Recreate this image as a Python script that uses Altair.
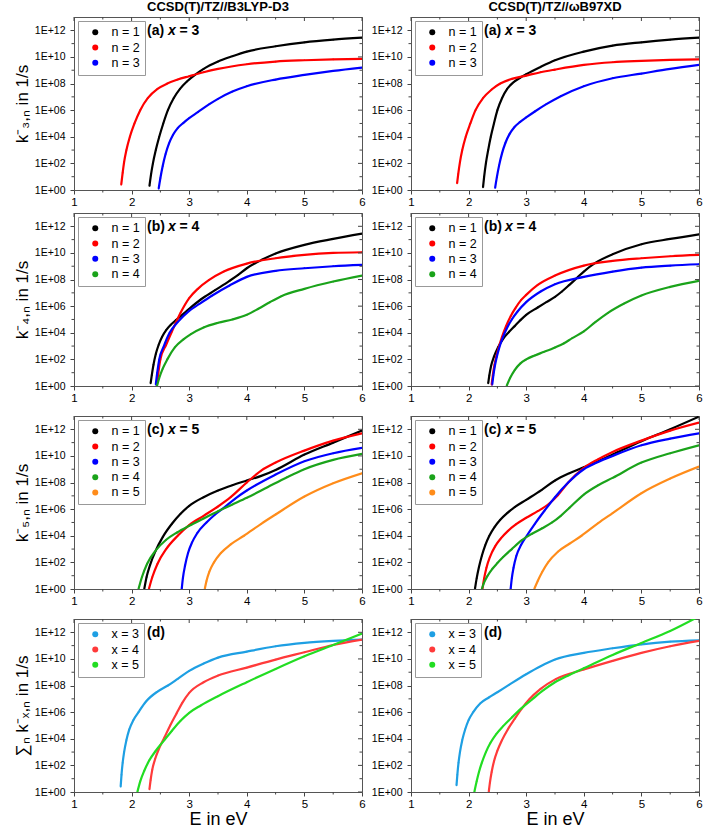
import altair as alt
import pandas as pd

# ---------------- text ----------------
TITLE_LEFT = "CCSD(T)/TZ//B3LYP-D3"
TITLE_RIGHT = "CCSD(T)/TZ//ωB97XD"
Y_TITLES = ["k⁻₃,ₙ in 1/s", "k⁻₄,ₙ in 1/s", "k⁻₅,ₙ in 1/s", "∑ₙ k⁻ₓ,ₙ in 1/s"]
X_TITLE = "E in eV"
N_NAMES = ["n = 1", "n = 2", "n = 3", "n = 4", "n = 5"]
X_NAMES = ["x = 3", "x = 4", "x = 5"]
N_COLORS = ["#000000", "#ff0000", "#0000ff", "#1aa31a", "#ff8c1a"]
X_COLORS = ["#1e9fe3", "#ff3a3a", "#22dd22"]

# ---------------- axes ----------------
X_MAJOR = [1, 2, 3, 4, 5, 6]
X_MINOR = [1.5, 2.5, 3.5, 4.5, 5.5]
Y_MAJOR_EXP = [0, 2, 4, 6, 8, 10, 12]
Y_MINOR_EXP = [1, 3, 5, 7, 9, 11]

# ---------------- data: (E in eV, log10 k) ----------------
# (a) x = 3, B3LYP-D3
a_l_n1 = [(2.31, 0.3), (2.335, 1.1), (2.37, 2), (2.42, 3), (2.48, 4), (2.55, 5), (2.63, 6), (2.73, 6.9),
          (2.84, 7.6), (2.96, 8.15), (3.1, 8.65), (3.25, 9.1), (3.5, 9.65), (3.75, 10.05), (4.0, 10.4),
          (4.5, 10.8), (5.0, 11.1), (5.5, 11.3), (6.0, 11.45)]
a_l_n2 = [(1.82, 0.4), (1.845, 1.3), (1.87, 2.1), (1.91, 3), (1.97, 4), (2.05, 5), (2.15, 6), (2.28, 6.9),
          (2.45, 7.6), (2.62, 8.0), (2.8, 8.3), (3.0, 8.55), (3.25, 8.85), (3.5, 9.1), (4.0, 9.45), (4.5, 9.65),
          (5.0, 9.75), (5.5, 9.82), (6.0, 9.85)]
a_l_n3 = [(2.47, 0.1), (2.50, 0.9), (2.54, 1.8), (2.59, 2.7), (2.65, 3.5), (2.72, 4.15), (2.80, 4.65),
          (2.9, 5.05), (3.0, 5.4), (3.15, 5.85), (3.35, 6.45), (3.5, 6.85), (3.75, 7.4), (4.0, 7.8), (4.5, 8.3),
          (5.0, 8.65), (5.5, 8.95), (6.0, 9.2)]
# (a) x = 3, wB97XD
a_r_n1 = [(2.25, 0.2), (2.27, 1), (2.30, 2), (2.34, 3), (2.385, 4), (2.44, 5), (2.50, 6), (2.58, 6.9),
          (2.67, 7.6), (2.78, 8.1), (2.9, 8.45), (3.0, 8.7), (3.25, 9.25), (3.5, 9.75), (4.0, 10.4),
          (4.5, 10.85), (5.0, 11.1), (5.5, 11.3), (6.0, 11.45)]
a_r_n2 = [(1.80, 0.5), (1.82, 1.2), (1.85, 2.1), (1.89, 3), (1.95, 4), (2.03, 5), (2.12, 6), (2.25, 6.9),
          (2.4, 7.55), (2.55, 8.0), (2.75, 8.35), (3.0, 8.6), (3.25, 8.85), (3.5, 9.05), (4.0, 9.4), (4.5, 9.6),
          (5.0, 9.7), (5.5, 9.78), (6.0, 9.82)]
a_r_n3 = [(2.46, 0.15), (2.49, 0.95), (2.53, 1.85), (2.58, 2.75), (2.64, 3.55), (2.71, 4.2), (2.79, 4.7),
          (2.89, 5.1), (3.0, 5.45), (3.15, 5.9), (3.35, 6.45), (3.6, 7.05), (4.0, 7.8), (4.5, 8.4), (5.0, 8.75),
          (5.5, 9.1), (6.0, 9.4)]
# (b) x = 4, B3LYP-D3
b_l_n1 = [(2.33, 0.2), (2.35, 0.8), (2.38, 1.6), (2.42, 2.4), (2.47, 3.1), (2.53, 3.7), (2.6, 4.2), (2.68, 4.6),
          (2.77, 4.95), (2.88, 5.35), (3.0, 5.8), (3.2, 6.5), (3.45, 7.2), (3.7, 7.9), (3.85, 8.35), (4.0, 8.85),
          (4.27, 9.5), (4.5, 9.95), (5.0, 10.6), (5.5, 11.05), (6.0, 11.45)]
b_l_n2 = [(2.44, 0.1), (2.465, 1), (2.50, 2), (2.6, 3.1), (2.70, 4.1), (2.85, 5.5), (3.0, 6.6), (3.15, 7.3),
          (3.34, 7.95), (3.6, 8.6), (4.0, 9.2), (4.5, 9.6), (5.0, 9.85), (5.5, 10.0), (6.0, 10.05)]
b_l_n3 = [(2.42, 0.1), (2.445, 1), (2.48, 2), (2.56, 3), (2.66, 4), (2.8, 4.8), (3.0, 5.65), (3.17, 6.15),
          (3.4, 6.8), (3.7, 7.55), (4.0, 8.2), (4.5, 8.65), (5.0, 8.85), (5.5, 9.0), (6.0, 9.1)]
b_l_n4 = [(2.44, 0), (2.48, 0.6), (2.54, 1.3), (2.62, 2), (2.75, 2.9), (2.9, 3.5), (3.03, 3.9), (3.25, 4.4),
          (3.5, 4.75), (3.75, 5.0), (4.0, 5.35), (4.2, 5.8), (4.4, 6.3), (4.6, 6.75), (5.0, 7.3), (5.5, 7.85),
          (6.0, 8.3)]
# (b) x = 4, wB97XD
b_r_n1 = [(2.34, 0.2), (2.36, 0.8), (2.39, 1.5), (2.44, 2.2), (2.51, 2.9), (2.6, 3.55), (2.7, 4.05), (2.8, 4.5),
          (2.9, 4.95), (3.0, 5.35), (3.2, 5.9), (3.35, 6.3), (3.5, 6.7), (3.62, 7.1), (3.75, 7.6), (3.9, 8.2),
          (4.0, 8.6), (4.2, 9.25), (4.5, 9.9), (5.0, 10.65), (5.5, 11.05), (6.0, 11.4)]
b_r_n2 = [(2.40, 0.1), (2.42, 0.8), (2.45, 1.6), (2.48, 2.2), (2.52, 2.85), (2.58, 3.7), (2.65, 4.5),
          (2.73, 5.25), (2.82, 5.9), (2.91, 6.45), (3.0, 6.85), (3.2, 7.6), (3.5, 8.3), (4.0, 9.05), (4.5, 9.4),
          (5.0, 9.6), (5.5, 9.75), (6.0, 9.85)]
b_r_n3 = [(2.41, 0.1), (2.43, 0.8), (2.46, 1.6), (2.49, 2.2), (2.53, 2.85), (2.59, 3.6), (2.66, 4.3), (2.75, 5.0),
          (2.85, 5.6), (3.0, 6.3), (3.25, 7.1), (3.5, 7.65), (4.0, 8.2), (4.5, 8.6), (5.0, 8.9), (5.5, 9.05),
          (6.0, 9.15)]
b_r_n4 = [(2.66, 0), (2.72, 0.6), (2.8, 1.2), (2.9, 1.7), (3.0, 2.0), (3.15, 2.3), (3.3, 2.55), (3.5, 2.9),
          (3.65, 3.2), (3.8, 3.6), (4.0, 4.1), (4.2, 4.8), (4.42, 5.5), (4.7, 6.2), (5.0, 6.8), (5.5, 7.45),
          (6.0, 7.9)]
# (c) x = 5, B3LYP-D3
c_l_n1 = [(2.22, 0), (2.26, 0.9), (2.32, 1.8), (2.42, 2.9), (2.54, 3.9), (2.7, 4.9), (2.85, 5.65), (3.0, 6.25),
          (3.25, 6.9), (3.5, 7.4), (3.75, 7.8), (4.0, 8.15), (4.25, 8.5), (4.5, 8.95), (5.0, 10.1), (5.5, 11.0),
          (6.0, 11.9)]
c_l_n2 = [(2.30, 0), (2.36, 0.9), (2.45, 1.9), (2.6, 3.0), (2.8, 4.0), (3.0, 4.8), (3.25, 5.5), (3.5, 6.2),
          (3.72, 6.9), (4.0, 8.0), (4.25, 8.9), (4.5, 9.5), (5.0, 10.4), (5.5, 11.15), (6.0, 11.7)]
c_l_n3 = [(2.87, 0), (2.89, 0.8), (2.93, 1.8), (2.98, 2.7), (3.05, 3.5), (3.14, 4.2), (3.3, 5.0), (3.45, 5.6),
          (3.6, 6.1), (3.8, 6.8), (4.0, 7.4), (4.5, 8.6), (5.0, 9.6), (5.5, 10.2), (6.0, 10.6)]
c_l_n4 = [(2.12, 0), (2.18, 0.9), (2.27, 1.9), (2.42, 2.9), (2.6, 3.7), (2.79, 4.25), (3.0, 4.75), (3.25, 5.3),
          (3.5, 5.85), (3.75, 6.35), (4.0, 6.85), (4.36, 7.65), (4.7, 8.4), (5.0, 9.0), (5.5, 9.7), (6.0, 10.15)]
c_l_n5 = [(3.27, 0), (3.30, 0.6), (3.35, 1.3), (3.43, 2.0), (3.55, 2.7), (3.72, 3.35), (3.95, 4.0), (4.25, 4.9),
          (4.5, 5.6), (5.0, 6.95), (5.5, 7.95), (6.0, 8.7)]
# (c) x = 5, wB97XD
c_r_n1 = [(2.11, 0), (2.14, 0.8), (2.18, 1.65), (2.23, 2.5), (2.29, 3.3), (2.36, 4.0), (2.45, 4.65), (2.55, 5.2),
          (2.67, 5.7), (2.8, 6.15), (3.0, 6.7), (3.27, 7.45), (3.5, 8.15), (3.75, 8.7), (4.0, 9.15), (4.25, 9.6),
          (4.5, 10.1), (5.0, 11.1), (5.5, 12.0), (6.0, 12.95)]
c_r_n2 = [(2.24, 0), (2.27, 0.8), (2.31, 1.6), (2.37, 2.4), (2.46, 3.2), (2.56, 3.8), (2.68, 4.35), (2.82, 4.85),
          (3.0, 5.35), (3.2, 5.85), (3.38, 6.35), (3.55, 7.05), (3.73, 8.0), (4.0, 9.1), (4.25, 9.75), (4.5, 10.3),
          (5.0, 11.15), (5.5, 11.9), (6.0, 12.5)]
c_r_n3 = [(2.73, 0), (2.75, 0.8), (2.78, 1.6), (2.83, 2.5), (2.91, 3.3), (3.01, 4.0), (3.15, 4.9), (3.32, 5.9),
          (3.5, 6.9), (3.73, 8.0), (4.0, 9.0), (4.25, 9.55), (4.5, 10.0), (5.0, 10.8), (5.5, 11.3), (6.0, 11.7)]
c_r_n4 = [(2.23, 0), (2.27, 0.5), (2.33, 1.0), (2.41, 1.5), (2.5, 1.95), (2.6, 2.4), (2.75, 3.0), (2.92, 3.65),
          (3.1, 4.15), (3.27, 4.55), (3.45, 5.0), (3.6, 5.5), (3.75, 6.1), (4.0, 7.1), (4.25, 7.8), (4.5, 8.35),
          (5.0, 9.5), (5.5, 10.2), (6.0, 10.8)]
c_r_n5 = [(3.14, 0), (3.2, 0.6), (3.28, 1.3), (3.38, 2), (3.55, 2.8), (3.75, 3.4), (3.96, 4), (4.25, 4.95),
          (4.5, 5.7), (5.0, 7.2), (5.5, 8.3), (6.0, 9.2)]
# (d) sums, B3LYP-D3
d_l_x3 = [(1.81, 0.4), (1.825, 1.3), (1.845, 2.2), (1.87, 3.0), (1.91, 3.9), (1.96, 4.7), (2.03, 5.4), (2.12, 6.0),
          (2.25, 6.8), (2.45, 7.55), (2.63, 8.0), (2.8, 8.5), (3.0, 9.1), (3.25, 9.65), (3.5, 10.1), (4.0, 10.55),
          (4.5, 10.95), (5.0, 11.2), (5.5, 11.35), (6.0, 11.45)]
d_l_x4 = [(2.31, 0.2), (2.33, 0.9), (2.36, 1.7), (2.41, 2.5), (2.48, 3.3), (2.57, 4.1), (2.67, 5.0), (2.78, 5.9),
          (2.88, 6.7), (3.0, 7.45), (3.25, 8.25), (3.5, 8.75), (4.0, 9.35), (4.5, 9.95), (5.0, 10.5), (5.5, 11.05),
          (6.0, 11.45)]
d_l_x5 = [(2.10, 0), (2.15, 0.8), (2.22, 1.6), (2.31, 2.4), (2.42, 3.1), (2.55, 3.8), (2.7, 4.6), (2.85, 5.35),
          (3.0, 5.95), (3.2, 6.5), (3.5, 7.2), (4.0, 8.25), (4.5, 9.25), (5.0, 10.2), (5.5, 11.05), (6.0, 11.9)]
# (d) sums, wB97XD
d_r_x3 = [(1.79, 0.5), (1.805, 1.3), (1.825, 2.2), (1.85, 3.0), (1.89, 3.9), (1.94, 4.7), (2.0, 5.4), (2.08, 6.0),
          (2.2, 6.65), (2.35, 7.1), (2.5, 7.5), (2.7, 8.05), (3.0, 8.85), (3.25, 9.45), (3.5, 9.95), (4.0, 10.45),
          (4.5, 10.8), (5.0, 11.1), (5.5, 11.3), (6.0, 11.4)]
d_r_x4 = [(2.35, 0), (2.37, 0.7), (2.40, 1.5), (2.44, 2.3), (2.5, 3.1), (2.58, 3.9), (2.68, 4.7), (2.8, 5.5),
          (2.92, 6.25), (3.05, 6.95), (3.25, 7.75), (3.52, 8.5), (4.0, 9.2), (4.5, 9.85), (5.0, 10.45),
          (5.5, 10.95), (6.0, 11.35)]
d_r_x5 = [(2.10, 0), (2.14, 0.8), (2.18, 1.5), (2.23, 2.2), (2.30, 3.0), (2.38, 3.7), (2.48, 4.35), (2.6, 4.95),
          (2.75, 5.6), (2.92, 6.3), (3.1, 6.95), (3.3, 7.65), (3.5, 8.25), (3.75, 8.8), (4.0, 9.3), (4.5, 10.3),
          (5.0, 11.2), (5.5, 12.1), (6.0, 13.2)]

# ---------------- styling ----------------
W, H = 288, 173
FONT = "Liberation Sans"
TICK = "#444444"
FRAME = "#555555"

XS = alt.Scale(domain=[1, 6], nice=False, zero=False)
YS = alt.Scale(type="log", domain=[1, 1e13], nice=False)
LABEL_EXPR = ("'1E+' + (round(log(datum.value)/LN10) < 10 ? '0' : '') + "
              "round(log(datum.value)/LN10)")


def x_axis(title):
    kw = dict(values=X_MAJOR, format="d", grid=False, tickSize=4, tickColor=TICK, domainColor=FRAME,
              labelFont=FONT, labelFontSize=11.5, labelColor="black", labelPadding=2, labelFlush=False,
              labelOverlap=False, titleFont=FONT, titleFontSize=18, titleFontWeight="normal",
              titleColor="black", titlePadding=1)
    return alt.Axis(title=title, **kw)


def y_axis(title):
    kw = dict(values=[10.0 ** e for e in Y_MAJOR_EXP], labelExpr=LABEL_EXPR, grid=False, tickSize=4,
              tickColor=TICK, domainColor=FRAME, labelFont=FONT, labelFontSize=10.5, labelColor="black",
              labelPadding=5, labelFlush=False, labelOverlap=False, titleFont=FONT, titleFontSize=17,
              titleFontWeight="normal", titleColor="black", titlePadding=3)
    return alt.Axis(title=title, **kw)


def panel(series, names, colors, tag, var, val, xtitle, ytitle, title=None):
    rows = []
    for name, pts in zip(names, series):
        for i, (e, lk) in enumerate(pts):
            rows.append({"E": e, "k": 10.0 ** lk, "s": name, "o": i})
    df = pd.DataFrame(rows)
    xa, ya = x_axis(xtitle), y_axis(ytitle)
    X = lambda: alt.X("E:Q", scale=XS, axis=xa)
    Y = lambda: alt.Y("k:Q", scale=YS, axis=ya)
    cscale = alt.Scale(domain=names, range=colors)

    legend = alt.Legend(title=None, orient="top-left", offset=4, padding=5, strokeColor="#999999",
                        fillColor="white", cornerRadius=0, labelFont=FONT, labelFontSize=12.5,
                        labelColor="black", symbolType="circle", symbolSize=36, symbolOffset=6,
                        labelOffset=10, rowPadding=2.3, symbolStrokeWidth=0)
    dots = alt.Chart(df).mark_circle(size=3, opacity=1, clip=True).encode(
        x=X(), y=Y(), color=alt.Color("s:N", scale=cscale, legend=legend))
    lines = alt.Chart(df).mark_line(interpolate="monotone", strokeWidth=2.2, clip=True).encode(
        x=X(), y=Y(), color=alt.Color("s:N", scale=cscale, legend=None), order="o:Q")

    ymaj = pd.DataFrame({"k": [10.0 ** e for e in Y_MAJOR_EXP]})
    ymin = pd.DataFrame({"k": [10.0 ** e for e in Y_MINOR_EXP]})
    xmaj = pd.DataFrame({"E": X_MAJOR})
    xmin = pd.DataFrame({"E": X_MINOR})
    rule = dict(color=TICK, strokeWidth=1)
    ticks = [
        alt.Chart(ymin).mark_rule(**rule).encode(y=Y(), x=alt.value(-2.5), x2=alt.value(0)),
        alt.Chart(ymaj).mark_rule(**rule).encode(y=Y(), x=alt.value(W - 4), x2=alt.value(W)),
        alt.Chart(ymin).mark_rule(**rule).encode(y=Y(), x=alt.value(W - 2.5), x2=alt.value(W)),
        alt.Chart(xmaj).mark_rule(**rule).encode(x=X(), y=alt.value(0), y2=alt.value(4)),
        alt.Chart(xmin).mark_rule(**rule).encode(x=X(), y=alt.value(0), y2=alt.value(2.5)),
        alt.Chart(xmin).mark_rule(**rule).encode(x=X(), y=alt.value(H), y2=alt.value(H + 2.5)),
    ]

    txt = dict(align="left", baseline="alphabetic", font=FONT, fontSize=14, fontWeight="bold", color="black")
    labels = [alt.Chart(pd.DataFrame({"t": [tag]})).mark_text(**txt).encode(
        x=alt.value(73), y=alt.value(18), text="t:N")]
    if var:
        labels.append(alt.Chart(pd.DataFrame({"t": [var]})).mark_text(fontStyle="italic", **txt).encode(
            x=alt.value(94), y=alt.value(18), text="t:N"))
        labels.append(alt.Chart(pd.DataFrame({"t": [val]})).mark_text(**txt).encode(
            x=alt.value(105.5), y=alt.value(18), text="t:N"))

    props = dict(width=W, height=H)
    if title:
        props["title"] = alt.TitleParams(title, font=FONT, fontSize=13, fontWeight="bold", color="black",
                                         anchor="middle", offset=3)
    return alt.layer(dots, lines, *ticks, *labels).properties(**props)


def row(left, right, spacing=49):
    return alt.hconcat(left, right, spacing=spacing, bounds="flush").resolve_scale(
        color="independent", x="independent", y="independent").resolve_legend(color="independent")


n3, n4, n5 = N_NAMES[:3], N_NAMES[:4], N_NAMES[:5]
c3, c4, c5 = N_COLORS[:3], N_COLORS[:4], N_COLORS[:5]

r1 = row(panel([a_l_n1, a_l_n2, a_l_n3], n3, c3, "(a)", "x", "= 3", None, Y_TITLES[0], TITLE_LEFT),
         panel([a_r_n1, a_r_n2, a_r_n3], n3, c3, "(a)", "x", "= 3", None, None, TITLE_RIGHT))
r2 = row(panel([b_l_n1, b_l_n2, b_l_n3, b_l_n4], n4, c4, "(b)", "x", "= 4", None, Y_TITLES[1]),
         panel([b_r_n1, b_r_n2, b_r_n3, b_r_n4], n4, c4, "(b)", "x", "= 4", None, None))
r3 = row(panel([c_l_n1, c_l_n2, c_l_n3, c_l_n4, c_l_n5], n5, c5, "(c)", "x", "= 5", None, Y_TITLES[2]),
         panel([c_r_n1, c_r_n2, c_r_n3, c_r_n4, c_r_n5], n5, c5, "(c)", "x", "= 5", None, None))
r4 = row(panel([d_l_x3, d_l_x4, d_l_x5], X_NAMES, X_COLORS, "(d)", None, None, X_TITLE, Y_TITLES[3]),
         panel([d_r_x3, d_r_x4, d_r_x5], X_NAMES, X_COLORS, "(d)", None, None, X_TITLE, None))

lower = alt.vconcat(r2, r3, r4, spacing=11).resolve_scale(
    color="independent", x="independent", y="independent").resolve_legend(color="independent")
chart = alt.vconcat(r1, lower, spacing=4).resolve_scale(
    color="independent", x="independent", y="independent").resolve_legend(color="independent")

chart = chart.configure_view(stroke=FRAME, strokeWidth=1).properties(
    padding={"left": 12, "top": 0, "right": 10, "bottom": 0}, background="white")

chart.save("out.html", embed_options={"renderer": "svg", "actions": False})
